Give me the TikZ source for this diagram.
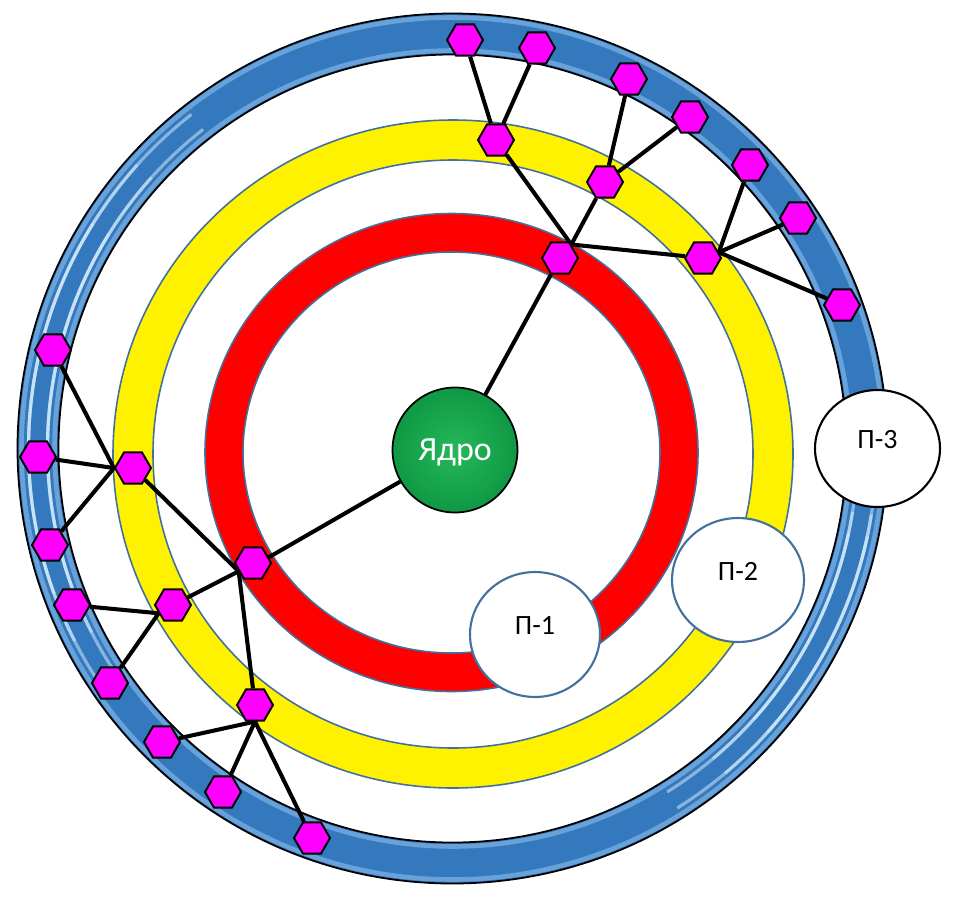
\documentclass[tikz,border=0pt]{standalone}
\usepackage{fontspec}
\setmainfont{Carlito}
\usetikzlibrary{shapes.geometric}
\pgfdeclarelayer{bg}
\pgfdeclarelayer{wires}
\pgfsetlayers{bg,wires,main}
\definecolor{ringedge}{RGB}{65,113,156}
\definecolor{tube}{RGB}{52,120,190}
\definecolor{tubeglow}{RGB}{140,190,235}
\definecolor{tubehi}{RGB}{220,242,255}
\definecolor{hexmag}{RGB}{255,0,255}
\begin{document}
\begin{tikzpicture}[x=0.02cm,y=-0.02cm,
  hexa/.style={regular polygon, regular polygon sides=6, minimum size=0.72cm, inner sep=0pt, fill=hexmag, draw=black, line width=1.1pt},
  link/.style={line width=2.3pt, black},
  ringline/.style={draw=ringedge, line width=0.9pt},
  stripe/.style={tubehi, line width=1.8pt, opacity=0.5},
  pcirc/.style={ellipse, fill=white, draw=ringedge, line width=1.2pt, inner sep=0pt,
    font=\fontsize{15.9}{18}\selectfont, text height=10.2pt, text depth=10.2pt},
]
\useasboundingbox (0,0) rectangle (960,900);
\coordinate (c) at (452.5,448.5);
\coordinate (cy) at (453,454);
\coordinate (cr) at (451.5,452.5);

\begin{pgfonlayer}{bg}
\fill[white] (0,0) rectangle (960,900);
% outer blue tube
\fill[tube, even odd rule] (c) circle[radius=435] (c) circle[radius=394];
\draw[tubeglow, line width=2.6pt, opacity=0.6] (c) circle[radius=431];
\draw[tubeglow, line width=2.6pt, opacity=0.6] (c) circle[radius=398];
% glossy stripes (left side and lower right side)
\foreach \r in {424,405} {
  \foreach \a/\b in {-128/-215,-138/-207,-148/-200} {
    \draw[stripe] (c) ++(\a:\r) arc[start angle=\a, end angle=\b, radius=\r];
  }
  \foreach \a/\b in {6/58,9/50,12/42} {
    \draw[stripe] (c) ++(\a:\r) arc[start angle=\a, end angle=\b, radius=\r];
  }
}
\draw[black, line width=1pt] (c) circle[radius=435] (c) circle[radius=394];
% yellow ring
\fill[yellow, even odd rule] (cy) circle[x radius=340, y radius=334] (cy) circle[x radius=300, y radius=294];
\draw[ringline] (cy) circle[x radius=340, y radius=334] (cy) circle[x radius=300, y radius=294];
% red ring
\fill[red, even odd rule] (cr) circle[x radius=246.5, y radius=239] (cr) circle[x radius=208.5, y radius=200.5];
\draw[ringline] (cr) circle[x radius=246.5, y radius=239] (cr) circle[x radius=208.5, y radius=200.5];
\end{pgfonlayer}

% nucleus
\node[circle, minimum size=2.5cm, inner sep=0pt, draw=black, line width=1pt,
  shading=radial, inner color={rgb,255:red,36;green,184;blue,90}, outer color={rgb,255:red,16;green,152;blue,68},
  text=white, font=\fontsize{19.3}{22}\selectfont, text depth=0pt] (nuc) at (455,450) {Ядро};

% levels
\node[pcirc, minimum width=2.6cm, minimum height=2.5cm] (p1) at (535,634.5) {П-1};
\node[pcirc, minimum width=2.64cm, minimum height=2.48cm] (p2) at (738,580) {П-2};
\node[pcirc, draw=black, minimum width=2.5cm, minimum height=2.34cm] (p3) at (877.5,448.5) {П-3};

% hexagons: red ring
\node[hexa] (r1) at (560,258) {};
\node[hexa] (r2) at (253,563) {};
% yellow ring
\node[hexa] (y1) at (496,140) {};
\node[hexa] (y2) at (605,182) {};
\node[hexa] (y3) at (703,258) {};
\node[hexa] (y4) at (133,468) {};
\node[hexa] (y5) at (173,605) {};
\node[hexa] (y6) at (255,705) {};
% blue ring
\node[hexa] (b1) at (465,40) {};
\node[hexa] (b2) at (537,48) {};
\node[hexa] (b3) at (629,79) {};
\node[hexa] (b4) at (690,117) {};
\node[hexa] (b5) at (750,165) {};
\node[hexa] (b6) at (798,218) {};
\node[hexa] (b7) at (842,305) {};
\node[hexa] (b8) at (53,350) {};
\node[hexa] (b9) at (38,457) {};
\node[hexa] (b10) at (50,545) {};
\node[hexa] (b11) at (72,605) {};
\node[hexa] (b12) at (110,683) {};
\node[hexa] (b13) at (162,742) {};
\node[hexa] (b14) at (223,792) {};
\node[hexa] (b15) at (312,838) {};

\begin{pgfonlayer}{wires}
\draw[link] (nuc) -- (r1);
\draw[link] (nuc) -- (r2.20);
\draw[link] (r1.50) -- (y1);
\draw[link] (r1.50) -- (y2);
\draw[link] (r1.50) -- (y3);
\draw[link] (y1) -- (b1);
\draw[link] (y1) -- (b2);
\draw[link] (y2) -- (b3);
\draw[link] (y2) -- (b4);
\draw[link] (y3.20) -- (b5);
\draw[link] (y3.20) -- (b6);
\draw[link] (y3.20) -- (b7);
\draw[link] (r2.210) -- (y4);
\draw[link] (r2.210) -- (y5);
\draw[link] (r2.210) -- (y6);
\draw[link] (y4.west) -- (b8);
\draw[link] (y4.west) -- (b9);
\draw[link] (y4.west) -- (b10);
\draw[link] (y5.210) -- (b11);
\draw[link] (y5.210) -- (b12);
\draw[link] (y6.south) -- (b13);
\draw[link] (y6.south) -- (b14);
\draw[link] (y6.south) -- (b15);
\end{pgfonlayer}
\end{tikzpicture}
\end{document}
